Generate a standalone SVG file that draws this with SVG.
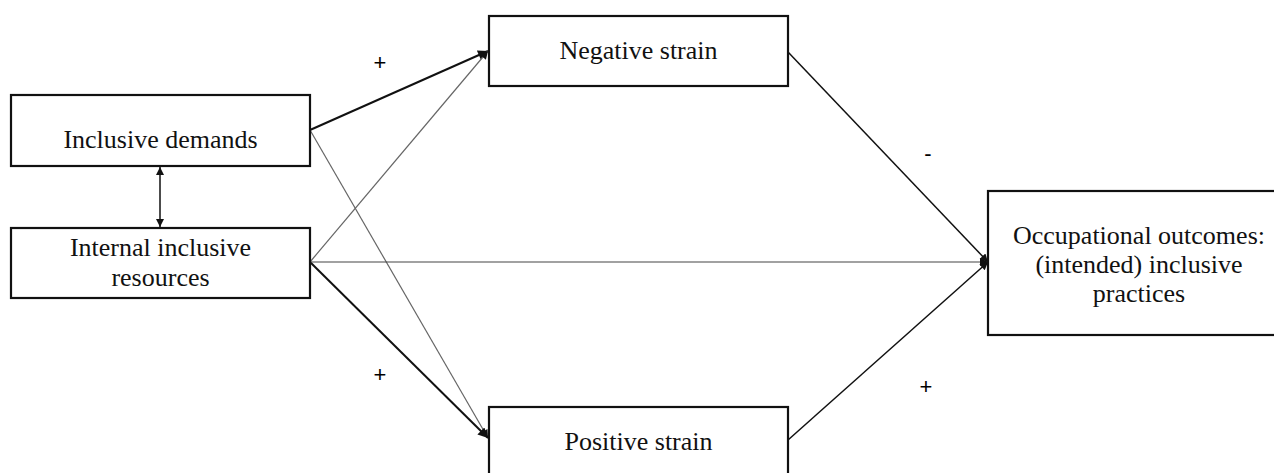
<svg xmlns="http://www.w3.org/2000/svg" width="1274" height="473" viewBox="0 0 1274 473">
<style>
.box{fill:#fff;stroke:#111;stroke-width:2.2}
.t{font-family:"Liberation Serif","Times New Roman",serif;font-size:26px;fill:#111;text-anchor:middle}
.s{font-family:"Liberation Sans",Arial,sans-serif;font-size:22px;fill:#000;text-anchor:middle}
.thick{stroke:#111;stroke-width:2;fill:none}
.mid{stroke:#111;stroke-width:1.5;fill:none}
.thin{stroke:#666;stroke-width:1.2;fill:none}
.thinD{stroke:#444;stroke-width:1.2;fill:none}
</style>
<defs>
<marker id="ah" viewBox="0 0 10 10" refX="10" refY="5" markerWidth="12" markerHeight="10" markerUnits="userSpaceOnUse" orient="auto-start-reverse">
<path d="M0,0 L10,5 L0,10 z" fill="#111"/>
</marker>
<marker id="ahs" viewBox="0 0 10 10" refX="10" refY="5" markerWidth="9" markerHeight="8" markerUnits="userSpaceOnUse" orient="auto-start-reverse">
<path d="M0,0 L10,5 L0,10 z" fill="#111"/>
</marker>
</defs>
<rect width="1274" height="473" fill="#fff"/>
<g id="connectors">
<line class="thick" x1="310" y1="130" x2="488" y2="51" marker-end="url(#ah)"/>
<line class="thin" x1="310" y1="262" x2="488" y2="51" marker-end="url(#ahs)"/>
<line class="thin" x1="310" y1="130" x2="488" y2="438" marker-end="url(#ahs)"/>
<line class="thick" x1="310" y1="262" x2="488" y2="438" marker-end="url(#ah)"/>
<line class="thinD" x1="310" y1="262" x2="988" y2="262" marker-end="url(#ahs)"/>
<line class="mid" x1="788" y1="52" x2="988" y2="262" marker-end="url(#ahs)"/>
<line class="mid" x1="788" y1="440" x2="988" y2="262" marker-end="url(#ahs)"/>
<line class="mid" x1="160" y1="167" x2="160" y2="227" marker-start="url(#ahs)" marker-end="url(#ahs)"/>
</g>
<g id="labels">
<text class="s" x="380" y="70">+</text>
<text class="s" x="928" y="161">-</text>
<text class="s" x="380" y="382">+</text>
<text class="s" x="926" y="394">+</text>
</g>
<g id="inclusive-demands">
<rect class="box" x="11" y="95" width="299" height="71"/>
<text class="t" x="160.5" y="148">Inclusive demands</text>
</g>
<g id="internal-resources">
<rect class="box" x="11" y="228" width="299" height="70"/>
<text class="t" x="160.5" y="256">Internal inclusive</text>
<text class="t" x="160.5" y="286">resources</text>
</g>
<g id="negative-strain">
<rect class="box" x="489" y="16" width="299" height="70"/>
<text class="t" x="638.5" y="59">Negative strain</text>
</g>
<g id="positive-strain">
<rect class="box" x="489" y="407" width="299" height="80"/>
<text class="t" x="638.5" y="450">Positive strain</text>
</g>
<g id="occupational-outcomes">
<rect class="box" x="988" y="191" width="300" height="144"/>
<text class="t" x="1139" y="244">Occupational outcomes:</text>
<text class="t" x="1139" y="273">(intended) inclusive</text>
<text class="t" x="1139" y="302">practices</text>
</g>
</svg>
